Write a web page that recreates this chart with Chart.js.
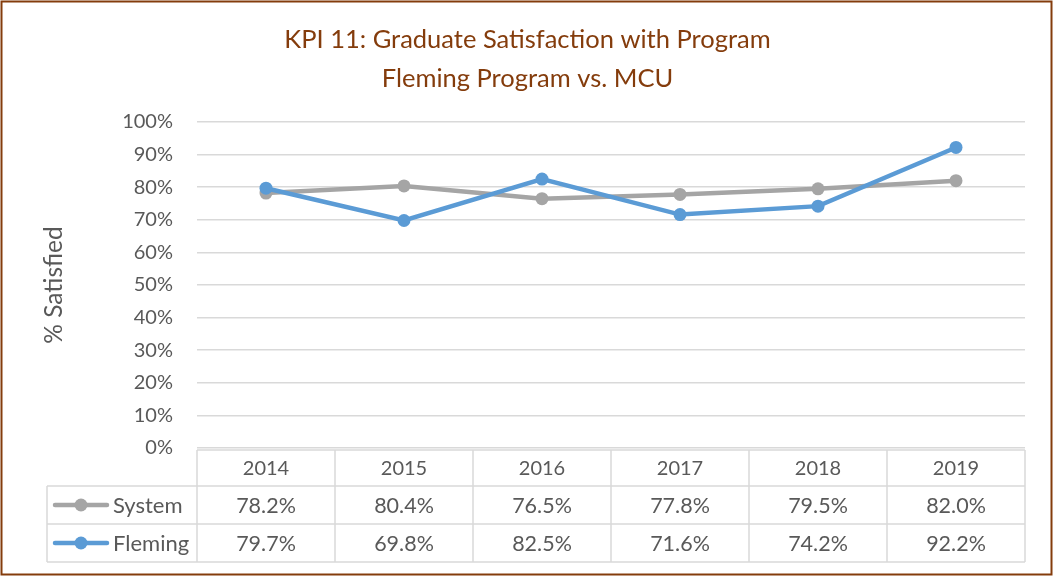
<!DOCTYPE html>
<html>
<head>
<meta charset="utf-8">
<script src="https://cdn.jsdelivr.net/npm/chart.js@4"></script>
<style>
html,body{margin:0;padding:0;background:#fff;}
#wrap{width:1056px;height:577px;position:relative;}
</style>
</head>
<body>
<div id="wrap"><canvas id="c" width="1056" height="577"></canvas></div>
<script>
const years = ['2014','2015','2016','2017','2018','2019'];
const systemValues = [78.2, 80.4, 76.5, 77.8, 79.5, 82.0];
const flemingValues = [79.7, 69.8, 82.5, 71.6, 74.2, 92.2];
const seriesNames = ['System', 'Fleming'];
const yTicks = [0,10,20,30,40,50,60,70,80,90,100];
const titleLines = ['KPI 11: Graduate Satisfaction with Program', 'Fleming Program vs. MCU'];
const yTitle = '% Satisfied';

const FONT = 'Lato, "Open Sans", sans-serif';
const TEXT = '#595959';
const GRID = '#d9d9d9';
const GRAY = '#a5a5a5';
const BLUE = '#5b9bd5';
const BROWN = '#843c0c';

const tablePlugin = {
  id: 'dataTable',
  afterDraw(chart) {
    const ctx = chart.ctx;
    const x = chart.scales.x;
    const area = chart.chartArea;
    const n = years.length;
    const colW = (area.right - area.left) / n;
    const top = 450, r1 = 486, r2 = 524, bottom = 562, leftEdge = 47;
    ctx.save();
    ctx.strokeStyle = GRID;
    ctx.lineWidth = 1.5;
    ctx.beginPath();
    ctx.moveTo(area.left, top); ctx.lineTo(area.right, top);
    ctx.moveTo(leftEdge, r1); ctx.lineTo(area.right, r1);
    ctx.moveTo(leftEdge, r2); ctx.lineTo(area.right, r2);
    ctx.moveTo(leftEdge, bottom); ctx.lineTo(area.right, bottom);
    ctx.moveTo(leftEdge, r1); ctx.lineTo(leftEdge, bottom);
    for (let i = 0; i <= n; i++) {
      const xx = area.left + i * colW;
      ctx.moveTo(xx, top); ctx.lineTo(xx, bottom);
    }
    ctx.stroke();

    ctx.fillStyle = TEXT;
    ctx.textAlign = 'center';
    ctx.textBaseline = 'middle';
    const rows = [systemValues, flemingValues];
    const rowY = [(r1 + r2) / 2, (r2 + bottom) / 2];
    years.forEach((y, i) => {
      const cx = x.getPixelForValue(i);
      ctx.font = '20px ' + FONT;
      ctx.fillText(y, cx, (top + r1) / 2 + 1);
      ctx.font = '21.5px ' + FONT;
      rows.forEach((vals, k) => {
        ctx.fillText(vals[i].toFixed(1) + '%', cx, rowY[k] + 1);
      });
    });
    const colors = [GRAY, BLUE];
    ctx.font = '22px ' + FONT;
    rows.forEach((vals, k) => {
      const yy = rowY[k];
      ctx.strokeStyle = colors[k];
      ctx.lineWidth = 4.5;
      ctx.lineCap = 'round';
      ctx.beginPath();
      ctx.moveTo(55, yy); ctx.lineTo(107, yy);
      ctx.stroke();
      ctx.fillStyle = colors[k];
      ctx.beginPath();
      ctx.arc(81, yy, 6.5, 0, Math.PI * 2);
      ctx.fill();
      ctx.fillStyle = TEXT;
      ctx.textAlign = 'left';
      ctx.fillText(seriesNames[k], 113, yy + 1);
    });
    ctx.strokeStyle = BROWN;
    ctx.lineWidth = 2;
    ctx.strokeRect(1.5, 1.5, 1050, 573);
    ctx.restore();
  }
};

new Chart(document.getElementById('c'), {
  type: 'line',
  data: {
    labels: years,
    datasets: [
      { label: seriesNames[0], data: systemValues, borderColor: GRAY, backgroundColor: GRAY,
        borderWidth: 4.5, pointRadius: 6.5, pointHoverRadius: 6.5, pointBackgroundColor: GRAY,
        pointBorderWidth: 0, order: 1, tension: 0 },
      { label: seriesNames[1], data: flemingValues, borderColor: BLUE, backgroundColor: BLUE,
        borderWidth: 4.5, pointRadius: 6.5, pointHoverRadius: 6.5, pointBackgroundColor: BLUE,
        pointBorderWidth: 0, order: 0, tension: 0 }
    ]
  },
  options: {
    responsive: false,
    animation: false,
    layout: { padding: { left: 30, right: 31, top: 10, bottom: 129 } },
    plugins: {
      legend: { display: false },
      tooltip: { enabled: false },
      title: {
        display: true,
        text: titleLines,
        color: BROWN,
        font: { family: FONT, size: 25.5, weight: 'normal', lineHeight: 1.53 },
        padding: { top: 10.5, bottom: 23.5 }
      }
    },
    scales: {
      x: { type: 'category', display: false, offset: true },
      y: {
        min: 0, max: 100,
        afterBuildTicks(scale) { scale.ticks = yTicks.map(v => ({ value: v })); },
        afterFit(scale) { scale.width = 167; },
        border: { display: false },
        grid: { color: GRID, lineWidth: 1.5, drawTicks: false },
        ticks: { color: TEXT, padding: 24, font: { family: FONT, size: 20 },
                 callback: v => v + '%' },
        title: { display: true, text: yTitle, color: TEXT, padding: { top: 9, bottom: 0 },
                 font: { family: FONT, size: 24.5 } }
      }
    }
  },
  plugins: [tablePlugin]
});
</script>
</body>
</html>
